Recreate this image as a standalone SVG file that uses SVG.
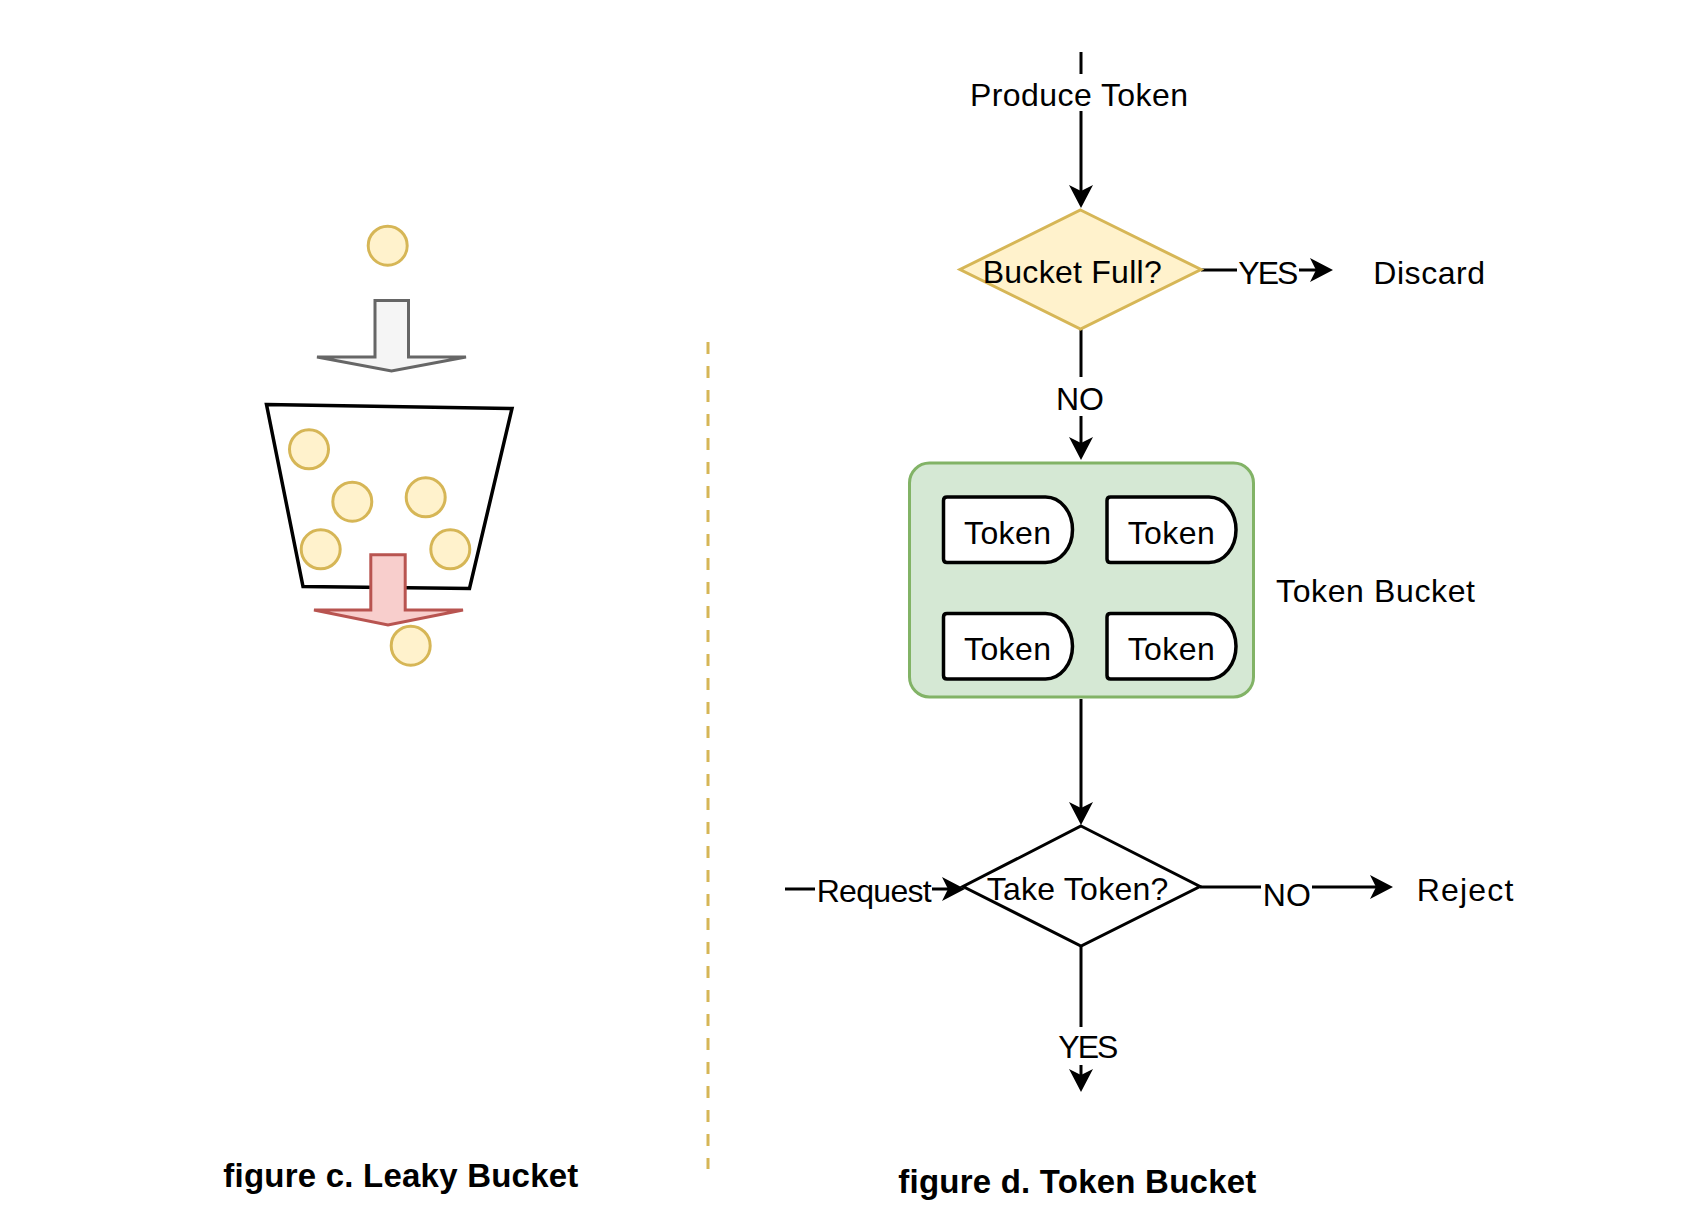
<svg xmlns="http://www.w3.org/2000/svg" width="1690" height="1232" viewBox="0 0 1690 1232">
<style>
.t{font-family:"Liberation Sans","Noto Sans",sans-serif;font-size:32px;fill:#000}
.cap{font-family:"Liberation Sans","Noto Sans",sans-serif;font-size:33px;font-weight:bold;fill:#000}
.ball{fill:#fff2cc;stroke:#d6b656;stroke-width:3}
.edge{fill:none;stroke:#000;stroke-width:3}
.bg{fill:#fff}
.tok{fill:#fff;stroke:#000;stroke-width:3.5}
</style>
<defs>
<marker id="arr" markerUnits="userSpaceOnUse" markerWidth="26" markerHeight="26" viewBox="-24 -13 26 26" refX="-10" refY="0" orient="auto">
<path d="M0,0 L-23,-12 L-17,0 L-23,12 Z" fill="#000"/>
</marker>
<path id="tokshape" d="M3.5,0 H102 A27,32.75 0 0 1 102,65.5 H3.5 Q0,65.5 0,62 V3.5 Q0,0 3.5,0 Z"/>
</defs>
<rect width="1690" height="1232" fill="#fff"/>

<!-- Leaky bucket (left figure) -->
<g id="leaky">
<circle id="ball-in" class="ball" cx="387.7" cy="245.7" r="19.5"/>
<polygon id="in-arrow" points="375,300.5 408.5,300.5 408.5,357 466,357 391.5,371 317,357 375,357" fill="#f5f5f5" stroke="#666666" stroke-width="3"/>
<polygon id="bucket" points="266.5,404.5 512,408.5 469.5,588.5 303,586.5" fill="#fff" stroke="#000" stroke-width="3.5"/>
<circle class="ball" cx="309" cy="449.3" r="19.5"/>
<circle class="ball" cx="352.3" cy="501.7" r="19.5"/>
<circle class="ball" cx="425.7" cy="497.3" r="19.5"/>
<circle class="ball" cx="320.7" cy="549.3" r="19.5"/>
<circle class="ball" cx="450.3" cy="549.3" r="19.5"/>
<polygon id="out-arrow" points="370.8,554.8 405.2,554.8 405.2,610 463,610 388,625 314,610 370.8,610" fill="#f8cecc" stroke="#b85450" stroke-width="3"/>
<circle id="ball-out" class="ball" cx="410.7" cy="645.7" r="19.5"/>
<text class="cap" x="223.3" y="1186.7" textLength="355">figure c. Leaky Bucket</text>
</g>

<!-- divider -->
<line id="divider" x1="708" y1="342" x2="708" y2="1169" stroke="#d6b656" stroke-width="3" stroke-dasharray="12 12"/>

<!-- connectors -->
<g id="connectors">
<path class="edge" d="M1081,52 V198" marker-end="url(#arr)"/>
<path class="edge" d="M1201,270 H1323" marker-end="url(#arr)"/>
<path class="edge" d="M1081,329 V450" marker-end="url(#arr)"/>
<path class="edge" d="M1081,699 V815" marker-end="url(#arr)"/>
<path class="edge" d="M785,889 H955" marker-end="url(#arr)"/>
<path class="edge" d="M1200,887 H1383" marker-end="url(#arr)"/>
<path class="edge" d="M1081,946 V1082" marker-end="url(#arr)"/>
<rect class="bg" x="966" y="74" width="226" height="37"/>
<text class="t" x="970" y="106" textLength="218">Produce Token</text>
<rect class="bg" x="1237" y="256" width="62" height="34"/>
<text class="t" x="1238.3" y="284" textLength="60">YES</text>
<rect class="bg" x="1055" y="377" width="51" height="39"/>
<text class="t" x="1056" y="410" textLength="48">NO</text>
<rect class="bg" x="815" y="872" width="117" height="36"/>
<text class="t" x="816.7" y="901.7" textLength="115">Request</text>
<rect class="bg" x="1261" y="878" width="51" height="32"/>
<text class="t" x="1262.7" y="906" textLength="48.3">NO</text>
<rect class="bg" x="1056" y="1027" width="64" height="38"/>
<text class="t" x="1058.3" y="1058.3" textLength="60">YES</text>
</g>

<!-- nodes -->
<g id="bucket-full">
<polygon points="1080.5,210 1201,269.5 1080.5,329 960,269.5" fill="#fff2cc" stroke="#d6b656" stroke-width="3"/>
<text class="t" x="982.7" y="283.3" textLength="179">Bucket Full?</text>
</g>
<g id="discard">
<text class="t" x="1373.3" y="284" textLength="111.7">Discard</text>
</g>
<g id="token-bucket">
<rect x="909.5" y="463" width="344" height="234" rx="20" ry="20" fill="#d5e8d4" stroke="#82b366" stroke-width="3"/>
</g>
<g id="token1" transform="translate(943.5,497)">
<use href="#tokshape" class="tok"/>
<text class="t" x="20.5" y="47" textLength="87">Token</text>
</g>
<g id="token2" transform="translate(1107,497)">
<use href="#tokshape" class="tok"/>
<text class="t" x="20.7" y="47" textLength="87">Token</text>
</g>
<g id="token3" transform="translate(943.5,613.5)">
<use href="#tokshape" class="tok"/>
<text class="t" x="20.5" y="46.5" textLength="87">Token</text>
</g>
<g id="token4" transform="translate(1107,613.5)">
<use href="#tokshape" class="tok"/>
<text class="t" x="20.7" y="46.5" textLength="87">Token</text>
</g>
<g id="token-bucket-label">
<text class="t" x="1276" y="602.3" textLength="199">Token Bucket</text>
</g>
<g id="take-token">
<polygon points="1081,826 1200,886.5 1081,946 963,886.5" fill="#fff" stroke="#000" stroke-width="3"/>
<text class="t" x="986.7" y="900" textLength="181.6">Take Token?</text>
</g>
<g id="reject">
<text class="t" x="1416.7" y="900.7" textLength="96.6">Reject</text>
</g>
<g id="caption-d">
<text class="cap" x="898.3" y="1193.3" textLength="358">figure d. Token Bucket</text>
</g>
</svg>
